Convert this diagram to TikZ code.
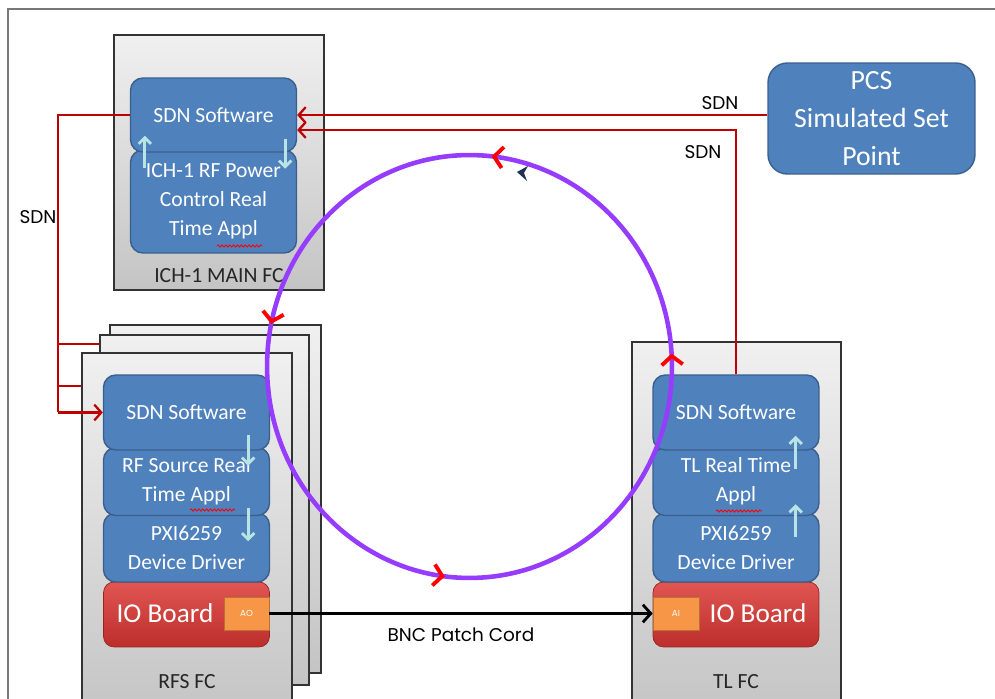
\documentclass[tikz,border=0pt]{standalone}
\usepackage{fontspec}
\setmainfont{Carlito}
\newfontfamily\tagfont{Poppins}
\usetikzlibrary{arrows.meta,positioning,calc,decorations.markings,decorations.pathmorphing}
\definecolor{boxblue}{RGB}{79,129,189}
\definecolor{boxedge}{RGB}{58,95,140}
\definecolor{linkred}{RGB}{192,0,0}
\definecolor{ringviolet}{RGB}{150,60,255}
\definecolor{flowcyan}{RGB}{185,228,228}
\definecolor{iotop}{RGB}{224,86,82}
\definecolor{iobottom}{RGB}{188,46,43}
\definecolor{portorange}{RGB}{247,150,70}
\definecolor{fctop}{RGB}{240,240,240}
\definecolor{fcbottom}{RGB}{196,196,196}
\definecolor{navyblue}{RGB}{30,50,80}
\definecolor{framegray}{RGB}{120,120,120}

\begin{document}
\begin{tikzpicture}[x=0.02cm, y=-0.02cm,
    fc/.style={draw=black!80, line width=0.8pt, top color=fctop,
               bottom color=fcbottom, inner sep=0pt},
    layer/.style={draw=boxedge, fill=boxblue, line width=0.8pt,
                  rounded corners=7pt, text=white, align=center,
                  inner sep=0pt, minimum width=3.32cm,
                  font=\fontsize{12.3}{16.5}\selectfont},
    ioboard/.style={draw=iobottom!80!black, top color=iotop,
                    bottom color=iobottom, rounded corners=6pt,
                    minimum width=3.32cm, minimum height=1.3cm},
    iotext/.style={text=white, inner sep=0pt,
                   font=\fontsize{15.5}{18}\selectfont},
    port/.style={draw=portorange!75!black, fill=portorange, text=white,
                 inner sep=0pt, minimum width=0.9cm, minimum height=0.66cm,
                 font=\tagfont\fontsize{5}{6}\selectfont},
    fclabel/.style={text=black!85, font=\fontsize{12.3}{14}\selectfont},
    tag/.style={font=\tagfont\fontsize{10.5}{12}\selectfont},
    wire/.style={linkred, line width=1.3pt},
    sdn/.style={wire, -{Straight Barb[length=4pt,width=9pt]}},
    flow/.style={flowcyan, line width=1.6pt,
                 -{Straight Barb[length=3.5pt,width=7pt]}},
    bnc/.style={black, line width=1.6pt,
                -{Straight Barb[length=4.5pt,width=10pt]}},
    ring/.style={ringviolet, line width=2.6pt, postaction={decorate},
                 decoration={markings,
                   mark=at position 0.01 with {\arrow{Straight Barb[red,length=5pt,width=12pt,line width=2.2pt]}},
                   mark=at position 0.233 with {\arrow{Straight Barb[red,length=5pt,width=12pt,line width=2.2pt]}},
                   mark=at position 0.467 with {\arrow{Straight Barb[red,length=5pt,width=12pt,line width=2.2pt]}},
                   mark=at position 0.731 with {\arrow{Straight Barb[red,length=5pt,width=12pt,line width=2.2pt]}}}},
    typo/.style={red, line width=0.5pt,
                 decorate, decoration={snake, amplitude=0.6pt, segment length=2.2pt}}
  ]
  \useasboundingbox (0,0) rectangle (995,699);
  \clip (0,0) rectangle (995,699);

  % outer frame
  \draw[framegray, line width=0.8pt] (8,699) -- (8,9) -- (995,9);

  % ICH-1 main frame computer
  \node[fc, minimum width=4.2cm, minimum height=5.1cm] (ich) at (219,162.5) {};
  \node[layer, minimum height=2.06cm] (ichrt) at (213.5,201.5)
       {ICH-1 RF Power\\Control Real\\Time Appl};
  \node[layer, minimum height=1.48cm] (ichsdn) at (213.5,115) {SDN Software};
  \node[fclabel] (ichname) at (219,276) {ICH-1 MAIN FC};

  % RFS frame computers (stack of three)
  \node[fc, minimum width=4.22cm, minimum height=6.96cm] (rfsback) at (215.5,499) {};
  \node[fc, minimum width=4.18cm, minimum height=7.0cm] (rfsmid) at (204.5,510) {};
  \node[fc, minimum width=4.2cm, minimum height=7.34cm] (rfs) at (187,536.5) {};
  \node[ioboard] (rfsio) at (186.5,614.5) {};
  \node[layer, minimum height=1.38cm] (rfspxi) at (186.5,547.5) {PXI6259\\Device Driver};
  \node[layer, minimum height=1.36cm] (rfsrt) at (186.5,481.5) {RF Source Real\\Time Appl};
  \node[layer, minimum height=1.5cm] (rfssdn) at (186.5,412.5) {SDN Software};
  \node[port] (ao) at (246.5,613.5) {AO};
  \node[iotext, left=0.2cm of ao] (rfsiotext) {IO Board};
  \node[fclabel] (rfsname) at (187,682) {RFS FC};

  % TL frame computer
  \node[fc, minimum width=4.18cm, minimum height=7.56cm] (tl) at (736.5,531) {};
  \node[ioboard] (tlio) at (736,614.5) {};
  \node[layer, minimum height=1.38cm] (tlpxi) at (736,547.5) {PXI6259\\Device Driver};
  \node[layer, minimum height=1.36cm] (tlrt) at (736,481.5) {TL Real Time\\Appl};
  \node[layer, minimum height=1.5cm] (tlsdn) at (736,412.5) {SDN Software};
  \node[port, minimum width=0.92cm] (ai) at (676,613.5) {AI};
  \node[iotext, right=0.2cm of ai] (tliotext) {IO Board};
  \node[fclabel] (tlname) at (736,682) {TL FC};

  % PCS set point
  \node[layer, rounded corners=11pt, minimum width=4.14cm, minimum height=2.22cm,
        font=\fontsize{15.8}{21.5}\selectfont] (pcs) at (871.5,118.5)
       {PCS\\Simulated Set\\Point};

  % spelling marks under Appl
  \draw[typo] (217,246) -- (262,246);
  \draw[typo] (190,510) -- (235,510);
  \draw[typo] (716,511) -- (762,511);

  % SDN links
  \coordinate (busTop) at (58,115);
  \coordinate (busBot) at (58,412.5);
  \draw[wire] (ichsdn.west) -- (busTop) -- (busBot);
  \draw[sdn] (busBot) -- (rfssdn.west);
  \draw[wire] (58,344) -- (rfsmid.west |- 0,344);
  \draw[wire] (58,386) -- (rfs.west |- 0,386);
  \draw[sdn] (pcs.west |- ichsdn.east) -- (ichsdn.east);
  \draw[sdn] (tlsdn.north) |- ($(ichsdn.east)+(0,15)$);
  \node[tag] (sdnleft) at (38,217) {SDN};
  \node[tag] (sdnpcs) at (720,103) {SDN};
  \node[tag] (sdntl) at (703,152) {SDN};

  % control loop
  \draw[ring] (469.5,366.5) ellipse [x radius=4.05cm, y radius=4.23cm];
  \fill[navyblue] (517,172) -- (528,166) -- (524,173) -- (527,181) -- cycle;

  % patch cord
  \draw[bnc] (ao.east) -- (ai.west) node[tag, midway, below=4pt] (bnclabel) {BNC Patch Cord};

  % data flow inside the frame computers
  \draw[flow] ($(ichsdn.south west)+(15,15)$) -- ($(ichsdn.south west)+(15,-17)$);
  \draw[flow] ($(ichsdn.south east)+(-12,-14)$) -- ($(ichsdn.south east)+(-12,16)$);
  \draw[flow] ($(rfssdn.south east)+(-22,-16)$) -- ($(rfssdn.south east)+(-22,15)$);
  \draw[flow] ($(rfsrt.south east)+(-22,-8)$) -- ($(rfsrt.south east)+(-22,25)$);
  \draw[flow] ($(tlrt.north east)+(-24,22)$) -- ($(tlrt.north east)+(-24,-11)$);
  \draw[flow] ($(tlpxi.north east)+(-24,25)$) -- ($(tlpxi.north east)+(-24,-8)$);
\end{tikzpicture}
\end{document}
